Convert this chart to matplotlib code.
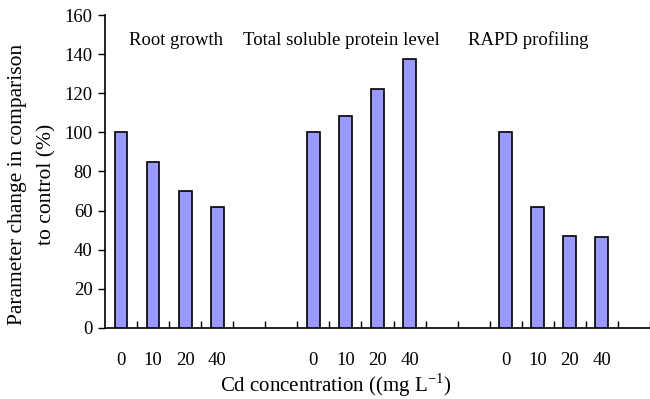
import numpy as np
import matplotlib.pyplot as plt

plt.rcParams['font.family'] = ['Liberation Serif', 'DejaVu Serif']

doses = ["0", "10", "20", "40"]
root_growth = [100, 85, 70, 62]
protein_level = [100, 108.5, 122.3, 137.5]
rapd_profiling = [100, 62, 47, 46.5]
group_names = ["Root growth", "Total soluble protein level", "RAPD profiling"]

# each group takes 4 slots, with 2 empty slots between groups
starts = [0, 6, 12]
groups = [root_growth, protein_level, rapd_profiling]

fig = plt.figure(figsize=(6.5, 3.99), dpi=100)
ax = fig.add_axes([0.1615, 0.178, 0.8385, 0.7844])

pos = []
labels = []
for s, vals in zip(starts, groups):
    x = np.arange(s, s + len(vals))
    ax.bar(x, vals, width=0.4, color='#9999FF', edgecolor='black', linewidth=1.2, zorder=3)
    pos.extend(x)
    labels.extend(doses)

ax.set_xlim(-0.5, 16.3)
ax.set_ylim(0, 160)
ax.set_yticks(np.arange(0, 161, 20))
ax.set_xticks(pos)
ax.set_xticklabels(labels)
ax.set_xticks(np.arange(0.5, 16.6, 1), minor=True)
ax.tick_params(axis='x', which='major', length=0, pad=17, labelsize=13.5)
ax.tick_params(axis='x', which='minor', direction='in', length=5, width=1)
ax.tick_params(axis='y', direction='out', length=5, width=1, labelsize=13.5, pad=4)

for sp in ['top', 'right']:
    ax.spines[sp].set_visible(False)
ax.spines['left'].set_linewidth(1.2)
ax.spines['bottom'].set_linewidth(1.2)

text_x = [0.25, 3.82, 10.83]
for tx, name in zip(text_x, group_names):
    ax.text(tx, 147, name, fontsize=13.5, ha='left', va='center')

# y label as two centred lines
ax.text(-0.16, 0.46, "Parameter change in comparison", transform=ax.transAxes,
        rotation=90, ha='center', va='center', fontsize=15.5)
ax.text(-0.106, 0.46, "to control (%)", transform=ax.transAxes,
        rotation=90, ha='center', va='center', fontsize=15.5)

ax.set_xlabel("Cd concentration ((mg L$^{\\mathregular{-1}}$)", fontsize=15)
ax.xaxis.set_label_coords(0.424, -0.14)

fig.savefig("out.png", dpi=100)
